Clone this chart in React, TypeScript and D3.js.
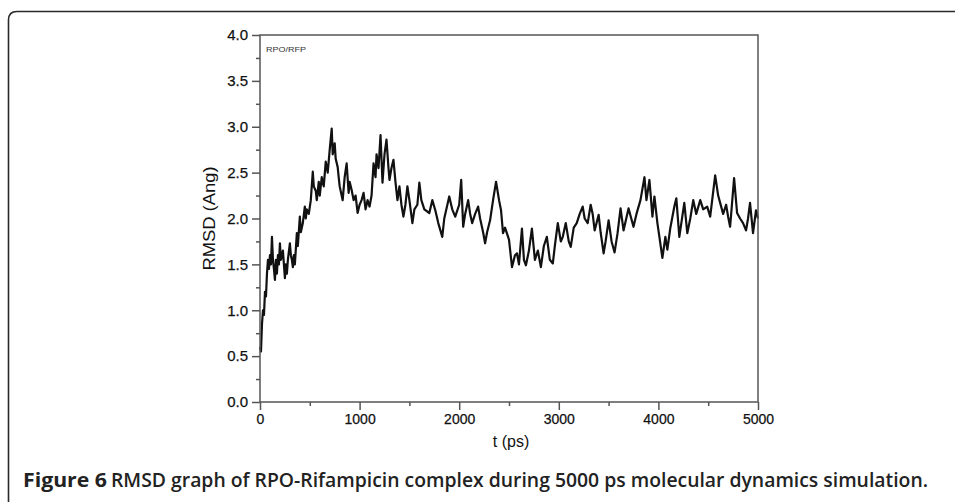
import React, { useEffect, useRef } from "react";
import * as d3 from "d3";

const timePs: number[] = [
  0, 10, 20, 30, 40, 50, 60, 70, 80, 90, 100, 110, 120, 130, 140, 150, 160, 170, 180, 190,
  200, 210, 230, 250, 260, 270, 280, 300, 310, 320, 330, 340, 350, 370, 380, 400, 410, 430, 450, 460,
  470, 490, 510, 530, 540, 560, 570, 590, 600, 620, 640, 660, 680, 700, 720, 730, 750, 760, 780, 790,
  800, 830, 850, 870, 890, 900, 920, 940, 960, 980, 1000, 1020, 1040, 1060, 1080, 1100, 1120, 1140, 1160, 1170,
  1190, 1210, 1230, 1250, 1270, 1290, 1300, 1320, 1340, 1360, 1380, 1400, 1420, 1440, 1460, 1480, 1500, 1530, 1550, 1580,
  1600, 1620, 1650, 1700, 1730, 1760, 1790, 1830, 1850, 1900, 1930, 1960, 2000, 2020, 2040, 2060, 2090, 2110, 2130, 2160,
  2190, 2210, 2240, 2260, 2280, 2310, 2340, 2370, 2400, 2420, 2440, 2460, 2500, 2530, 2560, 2580, 2600, 2630, 2650, 2670,
  2700, 2730, 2760, 2790, 2820, 2850, 2880, 2910, 2940, 2960, 2990, 3020, 3040, 3070, 3100, 3120, 3150, 3180, 3210, 3240,
  3260, 3290, 3320, 3340, 3360, 3400, 3420, 3450, 3470, 3500, 3530, 3560, 3590, 3620, 3650, 3700, 3750, 3780, 3820, 3860,
  3880, 3910, 3940, 3960, 3990, 4010, 4040, 4070, 4090, 4120, 4160, 4180, 4210, 4260, 4290, 4320, 4350, 4380, 4420, 4450,
  4490, 4520, 4540, 4570, 4600, 4620, 4650, 4680, 4700, 4720, 4760, 4790, 4820, 4850, 4880, 4900, 4920, 4950, 4980, 5000,
];

const rmsdAng: number[] = [
  0.60, 0.55, 0.85, 1.00, 0.95, 1.20, 1.15, 1.40, 1.55, 1.45, 1.60, 1.50, 1.80, 1.55, 1.45, 1.33, 1.55, 1.40, 1.60, 1.50,
  1.73, 1.55, 1.65, 1.35, 1.50, 1.40, 1.55, 1.73, 1.60, 1.55, 1.47, 1.60, 1.50, 1.84, 1.70, 2.02, 1.85, 1.95, 2.13, 2.00,
  2.10, 2.05, 2.20, 2.51, 2.35, 2.30, 2.20, 2.40, 2.25, 2.45, 2.35, 2.62, 2.50, 2.75, 2.98, 2.70, 2.82, 2.65, 2.56, 2.45,
  2.35, 2.20, 2.45, 2.60, 2.28, 2.40, 2.31, 2.20, 2.25, 2.06, 2.15, 2.20, 2.28, 2.10, 2.20, 2.13, 2.25, 2.60, 2.45, 2.70,
  2.55, 2.91, 2.39, 2.70, 2.86, 2.55, 2.42, 2.55, 2.64, 2.40, 2.20, 2.35, 2.15, 2.02, 2.15, 2.35, 2.20, 1.95, 2.10, 2.15,
  2.39, 2.20, 2.10, 2.06, 2.20, 2.09, 1.95, 1.80, 2.00, 2.24, 2.10, 2.02, 2.15, 2.42, 1.91, 2.05, 2.20, 2.05, 1.95, 2.05,
  2.13, 2.00, 1.85, 1.73, 1.85, 1.98, 2.20, 2.40, 2.20, 2.09, 1.84, 1.90, 1.77, 1.47, 1.60, 1.62, 1.50, 1.89, 1.55, 1.49,
  1.65, 1.89, 1.55, 1.65, 1.47, 1.70, 1.80, 1.55, 1.51, 1.70, 1.95, 1.75, 1.80, 1.95, 1.75, 1.69, 1.90, 1.95, 2.05, 2.13,
  2.00, 1.95, 2.15, 2.05, 1.87, 2.04, 1.85, 1.62, 1.75, 1.98, 1.75, 1.63, 1.84, 2.11, 1.87, 2.11, 1.91, 2.05, 2.20, 2.45,
  2.20, 2.42, 2.02, 2.24, 1.95, 1.80, 1.57, 1.80, 1.66, 1.90, 2.13, 2.22, 1.80, 2.17, 1.84, 2.00, 2.20, 2.05, 2.20, 2.10,
  2.13, 2.02, 2.20, 2.47, 2.25, 2.17, 2.05, 2.15, 2.02, 1.91, 2.44, 2.06, 2.00, 1.95, 1.87, 2.00, 2.17, 1.84, 2.09, 2.00,
];

const xMajorTicks: number[] = [0, 1000, 2000, 3000, 4000, 5000];
const xMinorTicks: number[] = [500, 1500, 2500, 3500, 4500];
const yMajorTicks: number[] = [0, 0.5, 1, 1.5, 2, 2.5, 3, 3.5, 4];
const yMinorTicks: number[] = [0.25, 0.75, 1.25, 1.75, 2.25, 2.75, 3.25, 3.75];

const xTitle = "t (ps)";
const yTitle = "RMSD (Ang)";
const insetLabel = "RPO/RFP";
const captionBold = "Figure 6";
const captionRest = "RMSD graph of RPO-Rifampicin complex during 5000 ps molecular dynamics simulation.";

const W = 955;
const H = 502;
const plot = { left: 260, right: 758, top: 35, bottom: 402 };

export default function App() {
  const ref = useRef<SVGSVGElement | null>(null);

  useEffect(() => {
    const svg = d3.select(ref.current);
    svg.selectAll("*").remove();

    const x = d3.scaleLinear().domain([0, 5000]).range([plot.left, plot.right]);
    const y = d3.scaleLinear().domain([0, 4]).range([plot.bottom, plot.top]);

    svg.append("rect").attr("width", W).attr("height", H).attr("fill", "#fff");

    // outer rounded frame (only top/left visible)
    svg
      .append("path")
      .attr("d", `M8.5,${H + 20} L8.5,20 Q8.5,11.5 17,11.5 L${W + 20},11.5`)
      .attr("fill", "none")
      .attr("stroke", "#2a2a2a")
      .attr("stroke-width", 1.6);

    // data line
    const data = timePs.map((t, i) => [t, rmsdAng[i]] as [number, number]);
    const line = d3
      .line<[number, number]>()
      .x((d) => x(d[0]))
      .y((d) => y(d[1]));
    svg
      .append("path")
      .datum(data)
      .attr("d", line)
      .attr("fill", "none")
      .attr("stroke", "#111")
      .attr("stroke-width", 2.2)
      .attr("stroke-linejoin", "round");

    const axisColor = "#555";
    svg
      .append("rect")
      .attr("x", plot.left)
      .attr("y", plot.top)
      .attr("width", plot.right - plot.left)
      .attr("height", plot.bottom - plot.top)
      .attr("fill", "none")
      .attr("stroke", axisColor)
      .attr("stroke-width", 1.5);

    const tickFont = "'Liberation Sans', Arial, sans-serif";

    // x axis
    const xAxis = d3
      .axisBottom(x)
      .tickValues(xMajorTicks)
      .tickSize(8)
      .tickPadding(4)
      .tickFormat((d) => String(d));
    const gx = svg.append("g").attr("transform", `translate(0,${plot.bottom})`).call(xAxis);
    gx.select(".domain").remove();
    gx.selectAll("line").attr("stroke", axisColor).attr("stroke-width", 1.5);
    gx.selectAll("text")
      .attr("fill", "#111")
      .attr("font-family", tickFont)
      .attr("font-size", 14)
      .attr("stroke", "#111")
      .attr("stroke-width", 0.25);
    const gxm = svg
      .append("g")
      .attr("transform", `translate(0,${plot.bottom})`)
      .call(d3.axisBottom(x).tickValues(xMinorTicks).tickSize(4).tickFormat(() => ""));
    gxm.select(".domain").remove();
    gxm.selectAll("line").attr("stroke", axisColor).attr("stroke-width", 1.5);

    // y axis
    const yAxis = d3
      .axisLeft(y)
      .tickValues(yMajorTicks)
      .tickSize(8)
      .tickPadding(4)
      .tickFormat((d) => d3.format(".1f")(d as number));
    const gy = svg.append("g").attr("transform", `translate(${plot.left},0)`).call(yAxis);
    gy.select(".domain").remove();
    gy.selectAll("line").attr("stroke", axisColor).attr("stroke-width", 1.5);
    gy.selectAll("text")
      .attr("fill", "#111")
      .attr("font-family", tickFont)
      .attr("font-size", 15)
      .attr("stroke", "#111")
      .attr("stroke-width", 0.25);
    const gym = svg
      .append("g")
      .attr("transform", `translate(${plot.left},0)`)
      .call(d3.axisLeft(y).tickValues(yMinorTicks).tickSize(4).tickFormat(() => ""));
    gym.select(".domain").remove();
    gym.selectAll("line").attr("stroke", axisColor).attr("stroke-width", 1.5);

    // titles
    svg
      .append("text")
      .attr("x", 511)
      .attr("y", 447)
      .attr("text-anchor", "middle")
      .attr("font-family", tickFont)
      .attr("font-size", 16)
      .attr("fill", "#111")
      .text(xTitle);
    svg
      .append("text")
      .attr("transform", `translate(215,${(plot.top + plot.bottom) / 2}) rotate(-90)`)
      .attr("text-anchor", "middle")
      .attr("font-family", tickFont)
      .attr("font-size", 17)
      .attr("textLength", 104)
      .attr("lengthAdjust", "spacingAndGlyphs")
      .attr("fill", "#111")
      .text(yTitle);

    svg
      .append("text")
      .attr("x", 266)
      .attr("y", 52)
      .attr("font-family", tickFont)
      .attr("font-size", 8)
      .attr("textLength", 40)
      .attr("lengthAdjust", "spacingAndGlyphs")
      .attr("fill", "#333")
      .text(insetLabel);

    // caption
    svg
      .append("text")
      .attr("x", 23)
      .attr("y", 487)
      .attr("font-family", "'Open Sans', sans-serif")
      .attr("font-size", 20)
      .attr("font-weight", 700)
      .attr("fill", "#222")
      .attr("textLength", 84)
      .attr("lengthAdjust", "spacingAndGlyphs")
      .text(captionBold);
    svg
      .append("text")
      .attr("x", 111)
      .attr("y", 487)
      .attr("font-family", "'Open Sans', sans-serif")
      .attr("font-size", 20)
      .attr("font-weight", 600)
      .attr("fill", "#222")
      .attr("textLength", 817)
      .attr("lengthAdjust", "spacingAndGlyphs")
      .text(captionRest);
  }, []);

  return (
    <svg
      ref={ref}
      width={W}
      height={H}
      style={{ position: "absolute", left: 0, top: 0, display: "block" }}
    />
  );
}
